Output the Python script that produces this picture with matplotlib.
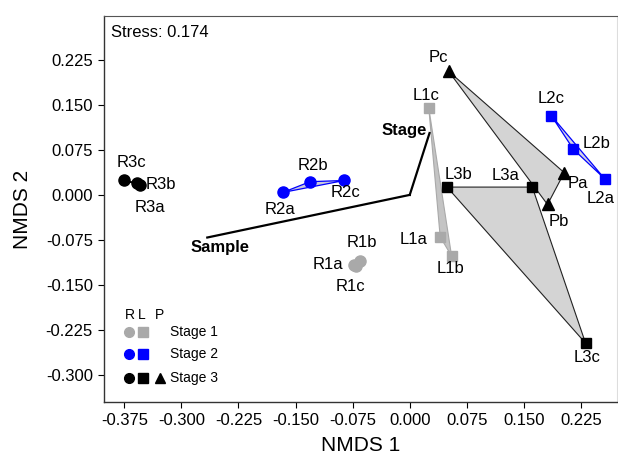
import matplotlib
matplotlib.use("Agg")
import matplotlib.pyplot as plt
from matplotlib.patches import Polygon

plt.rcParams['font.family'] = ['Liberation Sans', 'DejaVu Sans']

# ---- data ----
labels = ["R1a", "R1b", "R1c", "R2a", "R2b", "R2c", "R3a", "R3b", "R3c",
          "L1a", "L1b", "L1c", "L2a", "L2b", "L2c", "L3a", "L3b", "L3c",
          "Pa", "Pb", "Pc"]
nmds1 = [-0.073, -0.065, -0.070, -0.167, -0.131, -0.086, -0.358, -0.355, -0.376,
         0.040, 0.055, 0.025, 0.256, 0.215, 0.186, 0.161, 0.049, 0.231,
         0.203, 0.181, 0.051]
nmds2 = [-0.116, -0.110, -0.118, 0.004, 0.022, 0.024, 0.020, 0.017, 0.024,
         -0.070, -0.102, 0.145, 0.027, 0.076, 0.132, 0.013, 0.013, -0.247,
         0.037, -0.016, 0.206]
groups = ["R1", "R2", "R3", "L1", "L2", "L3", "P3"]
vector_names = ["Sample", "Stage"]
vector_x = [-0.266, 0.026]
vector_y = [-0.071, 0.103]
stress = 0.174
xticks = [-0.375, -0.300, -0.225, -0.150, -0.075, 0.000, 0.075, 0.150, 0.225]
yticks = [0.225, 0.150, 0.075, 0.000, -0.075, -0.150, -0.225, -0.300]

# ---- styles ----
GREY = '#a9a9a9'
BLUE = '#0000ff'
style = {
    "R1": dict(marker='o', color=GREY, ms=8, edge=GREY, fill='#c4c4c4', lw=0.8),
    "R2": dict(marker='o', color=BLUE, ms=8, edge=BLUE, fill='#c8c8dc', lw=0.9),
    "R3": dict(marker='o', color='black', ms=8, edge='black', fill='#c8c8c8', lw=0.9),
    "L1": dict(marker='s', color=GREY, ms=7.5, edge=GREY, fill='#c4c4c4', lw=0.8),
    "L2": dict(marker='s', color=BLUE, ms=7.5, edge=BLUE, fill='#d4d4e4', lw=0.9),
    "L3": dict(marker='s', color='black', ms=7.5, edge='#222222', fill='#d4d4d4', lw=0.8),
    "P3": dict(marker='^', color='black', ms=8, edge='#222222', fill='#d4d4d4', lw=0.8),
}
def group_of(lab):
    if lab.startswith('P'):
        return "P3"
    return lab[:2]

# label offsets (points)
offsets = {
    "R3c": (6, 13), "R3b": (15, 0), "R3a": (9, -18),
    "R2b": (2, 12), "R2a": (-2, -12), "R2c": (1, -9),
    "R1b": (1, 13), "R1a": (-19, 0), "R1c": (-4, -15),
    "L1c": (-2, 9), "L1a": (-19, -2), "L1b": (-1, -9),
    "Pc": (-7, 10), "Pa": (10, -8), "Pb": (8, -12),
    "L3b": (8, 9), "L3a": (-19, 8), "L3c": (1, -10),
    "L2c": (0, 12), "L2b": (17, 4), "L2a": (-3, -14),
}

fig = plt.figure(figsize=(6.18, 4.59), dpi=100)
ax = fig.add_axes([104/618, 1-402/459, (617-104)/618, (402-16)/459])
ax.set_xlim(-0.4017, 0.2723)
ax.set_ylim(-0.345, 0.298)

# hulls (3 points each -> triangle)
order = ["P3", "L3", "L1", "R1", "R3", "R2", "L2"]
for g in order:
    idx = [i for i, l in enumerate(labels) if group_of(l) == g]
    pts = [(nmds1[i], nmds2[i]) for i in idx]
    st = style[g]
    ax.add_patch(Polygon(pts, closed=True, facecolor=st['fill'],
                         edgecolor=st['edge'], lw=st['lw'], zorder=2))

# vectors from origin
for name, vx, vy in zip(vector_names, vector_x, vector_y):
    ax.plot([0, vx], [0, vy], color='black', lw=1.6, zorder=3)
ax.annotate("Sample", (vector_x[0], vector_y[0]), xytext=(9, -7),
            textcoords='offset points', ha='center', va='center',
            fontsize=12, fontweight='bold', zorder=6)
ax.annotate("Stage", (vector_x[1], vector_y[1]), xytext=(-18, 2),
            textcoords='offset points', ha='center', va='center',
            fontsize=12, fontweight='bold', zorder=6)

# points
for l, x, y in zip(labels, nmds1, nmds2):
    st = style[group_of(l)]
    ax.plot(x, y, linestyle='none', marker=st['marker'], ms=st['ms'],
            color=st['color'], mec=st['color'], zorder=5)
    dx, dy = offsets[l]
    ax.annotate(l, (x, y), xytext=(dx, dy), textcoords='offset points',
                ha='center', va='center', fontsize=12, zorder=6)

ax.text(0.013, 0.958, f"Stress: {stress:.3f}", transform=ax.transAxes,
        fontsize=12, ha='left', va='center')

# manual legend
T = ax.transAxes
def axc(px, py):
    return ((px - 104) / (617 - 104), (402 - py) / (402 - 16))
for ch, px in zip(["R", "L", "P"], [130, 142, 159]):
    ax.text(*axc(px, 315), ch, transform=T, ha='center', va='center', fontsize=10)
leg_rows = [("Stage 1", GREY, 332, ['o', 's']),
            ("Stage 2", BLUE, 354, ['o', 's']),
            ("Stage 3", 'black', 378, ['o', 's', '^'])]
for txt, col, py, mks in leg_rows:
    for mk, px in zip(mks, [129, 143, 160]):
        ax.plot(*axc(px, py), marker=mk, ms=7 if mk != 's' else 6.5, color=col,
                transform=T, clip_on=False, linestyle='none')
    ax.text(*axc(170, py), txt, transform=T, ha='left', va='center', fontsize=10)

ax.set_xticks(xticks)
ax.set_xticklabels([f"{v:.3f}" for v in xticks])
ax.set_yticks(yticks)
ax.set_yticklabels([f"{v:.3f}" for v in yticks])
ax.tick_params(direction='out', length=4, width=0.8, labelsize=12, pad=4)
ax.set_xlabel("NMDS 1", fontsize=15, labelpad=6)
ax.set_ylabel("NMDS 2", fontsize=15, labelpad=10)
for s in ['left', 'bottom']:
    ax.spines[s].set_color('#333333')
    ax.spines[s].set_linewidth(1.0)
ax.spines['top'].set_color('#555555')
ax.spines['right'].set_color('#dddddd')

fig.savefig("out.png", dpi=100)
